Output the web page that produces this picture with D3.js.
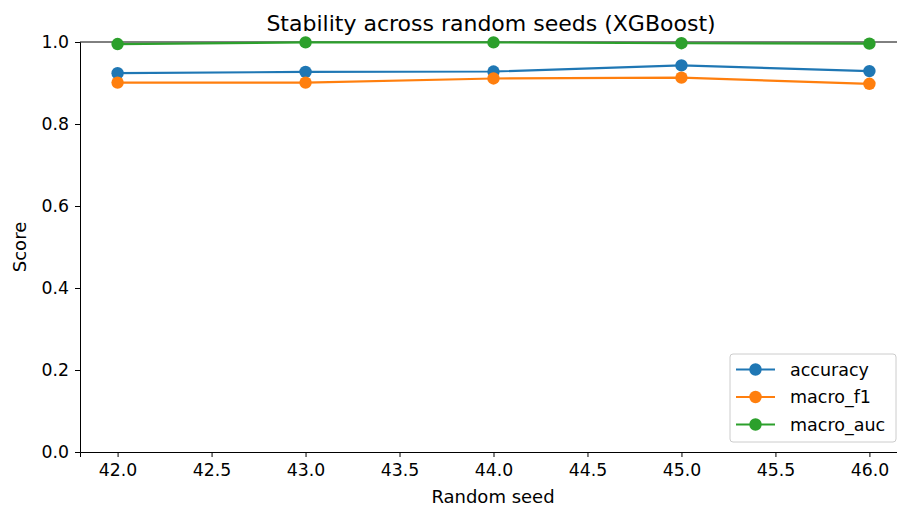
<!DOCTYPE html>
<html>
<head>
<meta charset="utf-8">
<script src="https://cdn.jsdelivr.net/npm/d3@7"></script>
<style>
  body { margin: 0; background: #fff; }
  svg { font-family: "DejaVu Sans", sans-serif; }
</style>
</head>
<body>
<div id="wrapper"></div>
<script>
const seeds = [42, 43, 44, 45, 46];
const accuracy = [0.924, 0.927, 0.928, 0.943, 0.929];
const macroF1 = [0.901, 0.901, 0.911, 0.913, 0.898];
const macroAuc = [0.995, 0.999, 0.999, 0.997, 0.996];
const seriesNames = ['accuracy', 'macro_f1', 'macro_auc'];
const colors = ['#1f77b4', '#ff7f0e', '#2ca02c'];
const yTicks = [0, 0.2, 0.4, 0.6, 0.8, 1.0];
const xTicks = [42, 42.5, 43, 43.5, 44, 44.5, 45, 45.5, 46];

const width = 897, height = 508;
const plotLeft = 80, plotRight = 907, plotTop = 42, plotBottom = 452;

let svg = d3.select('#wrapper').append('svg')
  .attr('width', width).attr('height', height);

let x = d3.scaleLinear().domain([41.8, 46.2]).range([plotLeft, plotRight]);
let y = d3.scaleLinear().domain([0, 1]).range([plotBottom, plotTop]);

let series = [accuracy, macroF1, macroAuc].map((vals, i) => ({
  name: seriesNames[i],
  color: colors[i],
  points: vals.map((v, j) => ({x: seeds[j], y: v}))
}));

// axes
let xAxis = svg.append('g').attr('transform', 'translate(0,' + plotBottom + ')')
  .call(d3.axisBottom(x).tickValues(xTicks).tickFormat(d3.format('.1f')).tickSizeOuter(0).tickSize(5).tickPadding(5));
let yAxis = svg.append('g').attr('transform', 'translate(' + plotLeft + ',0)')
  .call(d3.axisLeft(y).tickValues(yTicks).tickFormat(d3.format('.1f')).tickSizeOuter(0).tickSize(5).tickPadding(6));
[xAxis, yAxis].forEach(a => {
  a.attr('font-family', null).attr('font-size', null);
  a.selectAll('text').style('font-size', '17.3px').attr('fill', '#000');
  a.selectAll('line').attr('stroke', '#000').attr('stroke-width', 1);
  a.select('.domain').attr('stroke', '#000').attr('stroke-width', 1);
});
xAxis.selectAll('text').attr('dy', '0.82em');

// top spine
svg.append('line').attr('x1', plotLeft).attr('x2', plotRight).attr('y1', plotTop).attr('y2', plotTop)
  .attr('stroke', '#000').attr('stroke-width', 1);

let line = d3.line().x(d => x(d.x)).y(d => y(d.y));

let groups = svg.selectAll('.series').data(series).enter().append('g').classed('series', true);
groups.append('path').attr('d', d => line(d.points))
  .attr('fill', 'none').attr('stroke', d => d.color).attr('stroke-width', 2.2);
groups.selectAll('circle').data(d => d.points.map(p => ({...p, color: d.color}))).enter()
  .append('circle').attr('cx', d => x(d.x)).attr('cy', d => y(d.y)).attr('r', 6.2)
  .attr('fill', d => d.color);

// title & labels
svg.append('text').attr('x', 491).attr('y', 31).attr('text-anchor', 'middle')
  .style('font-size', '22px').text('Stability across random seeds (XGBoost)');
svg.append('text').attr('x', 493).attr('y', 503).attr('text-anchor', 'middle')
  .style('font-size', '18px').text('Random seed');
svg.append('text').attr('transform', 'translate(26,' + ((plotTop + plotBottom) / 2) + ') rotate(-90)')
  .attr('text-anchor', 'middle').style('font-size', '18px').text('Score');

// legend
let legend = svg.append('g').attr('transform', 'translate(730,354)');
legend.append('rect').attr('width', 166).attr('height', 88).attr('rx', 3)
  .attr('fill', '#fff').attr('fill-opacity', 0.8).attr('stroke', '#ccc');
let items = legend.selectAll('.item').data(series).enter().append('g')
  .attr('transform', (d, i) => 'translate(0,' + (15.5 + i * 27.5) + ')');
items.append('line').attr('x1', 6).attr('x2', 45).attr('stroke', d => d.color).attr('stroke-width', 2.2);
items.append('circle').attr('cx', 25.5).attr('r', 6.2).attr('fill', d => d.color);
items.append('text').attr('x', 60).attr('dy', '0.35em').style('font-size', '17.5px').text(d => d.name);
</script>
</body>
</html>
